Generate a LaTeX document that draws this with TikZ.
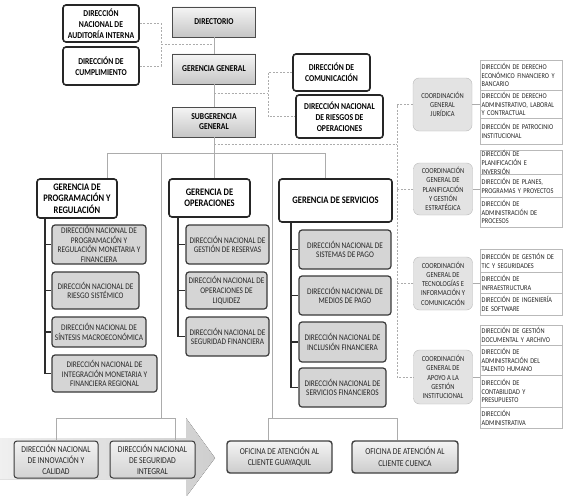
\documentclass[tikz,border=0pt]{standalone}
\usepackage{fontspec}
\setmainfont{Carlito}[FakeStretch=0.85]
\begin{document}
\begin{tikzpicture}[x=1pt, y=-1pt,
  head/.style={draw=gray!60!black, top color=gray!8, bottom color=gray!45, minimum width=83pt, minimum height=30pt, align=center, inner sep=1pt, font=\fontsize{9}{10}\selectfont\bfseries},
  whitebox/.style={draw=black!85, line width=1.6pt, rounded corners=3pt, fill=white, align=center, inner sep=1pt, font=\fontsize{9}{11}\selectfont\bfseries},
  gerbox/.style={whitebox, font=\fontsize{10}{11.5}\selectfont\bfseries},
  subbox/.style={draw=gray!45!black, line width=1.2pt, rounded corners=3pt, fill=gray!33, text=black!85, align=center, inner sep=1pt, font=\fontsize{8.6}{9.6}\selectfont},
  coord/.style={draw=gray!55, fill=gray!22, rounded corners=6pt, minimum width=59pt, minimum height=53pt, align=center, inner sep=1pt, text=black!85, font=\fontsize{7.6}{9.2}\selectfont},
  cell/.style={draw=gray!55, fill=white, anchor=north west, text width=79pt, align=left, inner xsep=1.5pt, inner ysep=0.5pt, text=black!85, font=\fontsize{7.4}{8.6}\selectfont},
  office/.style={draw=black!75, line width=1.4pt, rounded corners=3pt, top color=gray!8, bottom color=gray!40, align=center, inner sep=1pt, text=black!85, font=\fontsize{9}{11.5}\selectfont},
  bottombox/.style={draw=gray!45!black, line width=1pt, rounded corners=3pt, top color=gray!10, bottom color=gray!35, align=center, inner sep=1pt, text=black!85, font=\fontsize{9}{11}\selectfont},
  link/.style={draw=gray!65, line width=0.8pt},
  spine/.style={draw=gray!35!black, line width=1.3pt},
  dashlink/.style={draw=gray!65, line width=0.8pt, dash pattern=on 2pt off 1.5pt}
]
\useasboundingbox (0,0) rectangle (567,495);
\fill[white] (0,0) rectangle (567,495);

% flecha de fondo
\fill[left color=gray!12, right color=gray!38] (0,438) -- (186,438) -- (186,418) -- (215,458) -- (186,497) -- (186,479) -- (0,479) -- cycle;

% direccion superior
\node[head] (dir) at (214,22) {DIRECTORIO};
\node[head] (gg) at (214,69) {GERENCIA GENERAL};
\node[head] (sg) at (214,122) {SUBGERENCIA\\GENERAL};
\node[whitebox, minimum width=76pt, minimum height=37pt] (aud) at (101,23.5) {DIRECCIÓN\\NACIONAL DE\\AUDITORÍA INTERNA};
\node[whitebox, minimum width=76pt, minimum height=38pt] (cum) at (101,66) {DIRECCIÓN DE\\CUMPLIMIENTO};
\node[whitebox, minimum width=77pt, minimum height=37pt] (com) at (331.5,72.5) {DIRECCIÓN DE\\COMUNICACIÓN};
\node[whitebox, minimum width=87pt, minimum height=43pt] (rie) at (339.5,116.5) {DIRECCIÓN NACIONAL\\DE RIESGOS DE\\OPERACIONES};

% gerencias
\node[gerbox, minimum width=80pt, minimum height=39pt] (gpr) at (77,198.5) {GERENCIA DE\\PROGRAMACIÓN Y\\REGULACIÓN};
\node[gerbox, minimum width=81pt, minimum height=38pt] (gop) at (209.5,198) {GERENCIA DE\\OPERACIONES};
\node[gerbox, minimum width=113pt, minimum height=43pt] (gsv) at (335.5,200.5) {GERENCIA DE SERVICIOS};

\node[subbox, minimum width=94pt, minimum height=39pt] (pr1) at (99,244.5) {DIRECCIÓN NACIONAL DE\\PROGRAMACIÓN Y\\REGULACIÓN MONETARIA Y\\FINANCIERA};
\node[subbox, minimum width=87pt, minimum height=37pt] (pr2) at (95.5,290.5) {DIRECCIÓN NACIONAL DE\\RIESGO SISTÉMICO};
\node[subbox, minimum width=94pt, minimum height=30pt] (pr3) at (99,332) {DIRECCIÓN NACIONAL DE\\SÍNTESIS MACROECONÓMICA};
\node[subbox, minimum width=105pt, minimum height=37pt] (pr4) at (104.5,373.5) {DIRECCIÓN NACIONAL DE\\INTEGRACIÓN MONETARIA Y\\FINANCIERA REGIONAL};

\node[subbox, minimum width=83pt, minimum height=39pt] (op1) at (227.5,244.5) {DIRECCIÓN NACIONAL DE\\GESTIÓN DE RESERVAS};
\node[subbox, minimum width=81pt, minimum height=37pt] (op2) at (226.5,290.5) {DIRECCIÓN NACIONAL DE\\OPERACIONES DE\\LIQUIDEZ};
\node[subbox, minimum width=83pt, minimum height=39pt] (op3) at (227.5,336.5) {DIRECCIÓN NACIONAL DE\\SEGURIDAD FINANCIERA};

\node[subbox, minimum width=92pt, minimum height=39pt] (sv1) at (345,249.5) {DIRECCIÓN NACIONAL DE\\SISTEMAS DE PAGO};
\node[subbox, minimum width=92pt, minimum height=39pt] (sv2) at (345,295.5) {DIRECCIÓN NACIONAL DE\\MEDIOS DE PAGO};
\node[subbox, minimum width=87pt, minimum height=40pt] (sv3) at (342.5,342) {DIRECCIÓN NACIONAL DE\\INCLUSIÓN FINANCIERA};
\node[subbox, minimum width=87pt, minimum height=39pt] (sv4) at (342.5,387.5) {DIRECCIÓN NACIONAL DE\\SERVICIOS FINANCIEROS};

% coordinaciones
\node[coord] (cj) at (442.5,104.5) {COORDINACIÓN\\GENERAL\\JURÍDICA};
\node[coord, minimum height=52pt] (cp) at (443,189) {COORDINACIÓN\\GENERAL DE\\PLANIFICACIÓN\\Y GESTIÓN\\ESTRATÉGICA};
\node[coord] (ct) at (443,283.5) {COORDINACIÓN\\GENERAL DE\\TECNOLOGÍAS E\\INFORMACIÓN Y\\COMUNICACIÓN};
\node[coord, minimum height=54pt] (ca) at (443,377) {COORDINACIÓN\\GENERAL DE\\APOYO A LA\\GESTIÓN\\INSTITUCIONAL};

\node[cell, minimum height=30pt] (jr1) at (480,60) {DIRECCIÓN DE DERECHO\\ECONÓMICO FINANCIERO Y\\BANCARIO};
\node[cell, minimum height=28pt] (jr2) at (480,90) {DIRECCIÓN DE DERECHO\\ADMINISTRATIVO, LABORAL\\Y CONTRACTUAL};
\node[cell, minimum height=26pt] (jr3) at (480,118) {DIRECCIÓN DE PATROCINIO\\INSTITUCIONAL};
\node[cell, minimum height=24pt] (pl1) at (480,150) {DIRECCIÓN DE\\PLANIFICACIÓN E\\INVERSIÓN};
\node[cell, minimum height=23pt] (pl2) at (480,174) {DIRECCIÓN DE PLANES,\\PROGRAMAS Y PROYECTOS};
\node[cell, minimum height=30pt] (pl3) at (480,197) {DIRECCIÓN DE\\ADMINISTRACIÓN DE\\PROCESOS};
\node[cell, minimum height=23pt] (te1) at (480,249) {DIRECCIÓN DE GESTIÓN DE\\TIC Y SEGURIDADES};
\node[cell, minimum height=21pt] (te2) at (480,272) {DIRECCIÓN DE\\INFRAESTRUCTURA};
\node[cell, minimum height=22pt] (te3) at (480,293) {DIRECCIÓN DE INGENIERÍA\\DE SOFTWARE};
\node[cell, minimum height=20pt] (ap1) at (480,325) {DIRECCIÓN DE GESTIÓN\\DOCUMENTAL Y ARCHIVO};
\node[cell, minimum height=30pt] (ap2) at (480,345) {DIRECCIÓN DE\\ADMINISTRACIÓN DEL\\TALENTO HUMANO};
\node[cell, minimum height=32pt] (ap3) at (480,375) {DIRECCIÓN DE\\CONTABILIDAD Y\\PRESUPUESTO};
\node[cell, minimum height=21pt] (ap4) at (480,407) {DIRECCIÓN\\ADMINISTRATIVA};

% parte inferior
\node[bottombox, minimum width=84pt, minimum height=37pt] (din) at (56,459.5) {DIRECCIÓN NACIONAL\\DE INNOVACIÓN Y\\CALIDAD};
\node[bottombox, minimum width=85pt, minimum height=37pt] (dsi) at (152.5,459.5) {DIRECCIÓN NACIONAL\\DE SEGURIDAD\\INTEGRAL};
\node[office, minimum width=105pt, minimum height=32pt] (ogy) at (279.5,457) {OFICINA DE ATENCIÓN AL\\CLIENTE GUAYAQUIL};
\node[office, minimum width=106pt, minimum height=32pt] (ocu) at (405,457) {OFICINA DE ATENCIÓN AL\\CLIENTE CUENCA};

% lineas
\coordinate (bl) at (107,153);
\coordinate (br) at (325,153);
\coordinate (sepl) at (161,418);
\coordinate (sepr) at (272,418);
\coordinate (dsitop) at (175,418);
\coordinate (ogytop) at (268,418);
\coordinate (ocutop) at (397,418);
\draw[link] (dir) -- (gg);
\draw[link] (gg) -- (sg);
\draw[link] (sg.south) -- (sg.south |- bl);
\draw[link] (bl) -- (br);
\draw[link] (bl) -- (bl |- gpr.north);
\draw[link] (br) -- (br |- gsv.north);
\draw[link] (bl -| sg.south) -- (gop.north -| sg.south);
\draw[link] (sepl |- bl) -- (sepl);
\draw[link] (sepr |- bl) -- (sepr);
\draw[link] (din.north) |- (dsitop) -- (dsitop |- dsi.north);
\draw[link] (ogytop |- ogy.north) -- (ogytop) -- (ocutop) -- (ocutop |- ocu.north);

\coordinate (spr) at (45,0);
\coordinate (sop) at (178,0);
\coordinate (ssv) at (291,0);
\draw[spine] (spr |- gpr.south) |- (pr4.west);
\foreach \n in {pr1,pr2,pr3} \draw[spine] (spr |- \n.west) -- (\n.west);
\draw[spine] (sop |- gop.south) |- (op3.west);
\foreach \n in {op1,op2} \draw[spine] (sop |- \n.west) -- (\n.west);
\draw[spine] (ssv |- gsv.south) |- (sv4.west);
\foreach \n in {sv1,sv2,sv3} \draw[spine] (ssv |- \n.west) -- (\n.west);

\draw[link] (cj.east) -- (cj.east -| jr1.west);
\draw[link] (cp.east) -- (cp.east -| pl1.west);
\draw[link] (ct.east) -- (ct.east -| te1.west);
\draw[link] (ca.east) -- (ca.east -| ap1.west);

% asesoria (punteado)
\coordinate (jaud) at (161,44);
\coordinate (jcom) at (268,93);
\coordinate (jco) at (397,144);
\draw[dashlink] (aud.east) -| (jaud) -- (jaud -| dir.south);
\draw[dashlink] (cum.east) -| (jaud);
\draw[dashlink] (jcom -| gg.south) -- (jcom);
\draw[dashlink] (com.west) -| (jcom) |- (rie.west);
\draw[dashlink] (jco -| sg.south) -- (jco);
\draw[dashlink] (cj.west) -| (jco) |- (ca.west);
\draw[dashlink] (cp.west) -- (cp.west -| jco);
\draw[dashlink] (ct.west) -- (ct.west -| jco);
\end{tikzpicture}
\end{document}
